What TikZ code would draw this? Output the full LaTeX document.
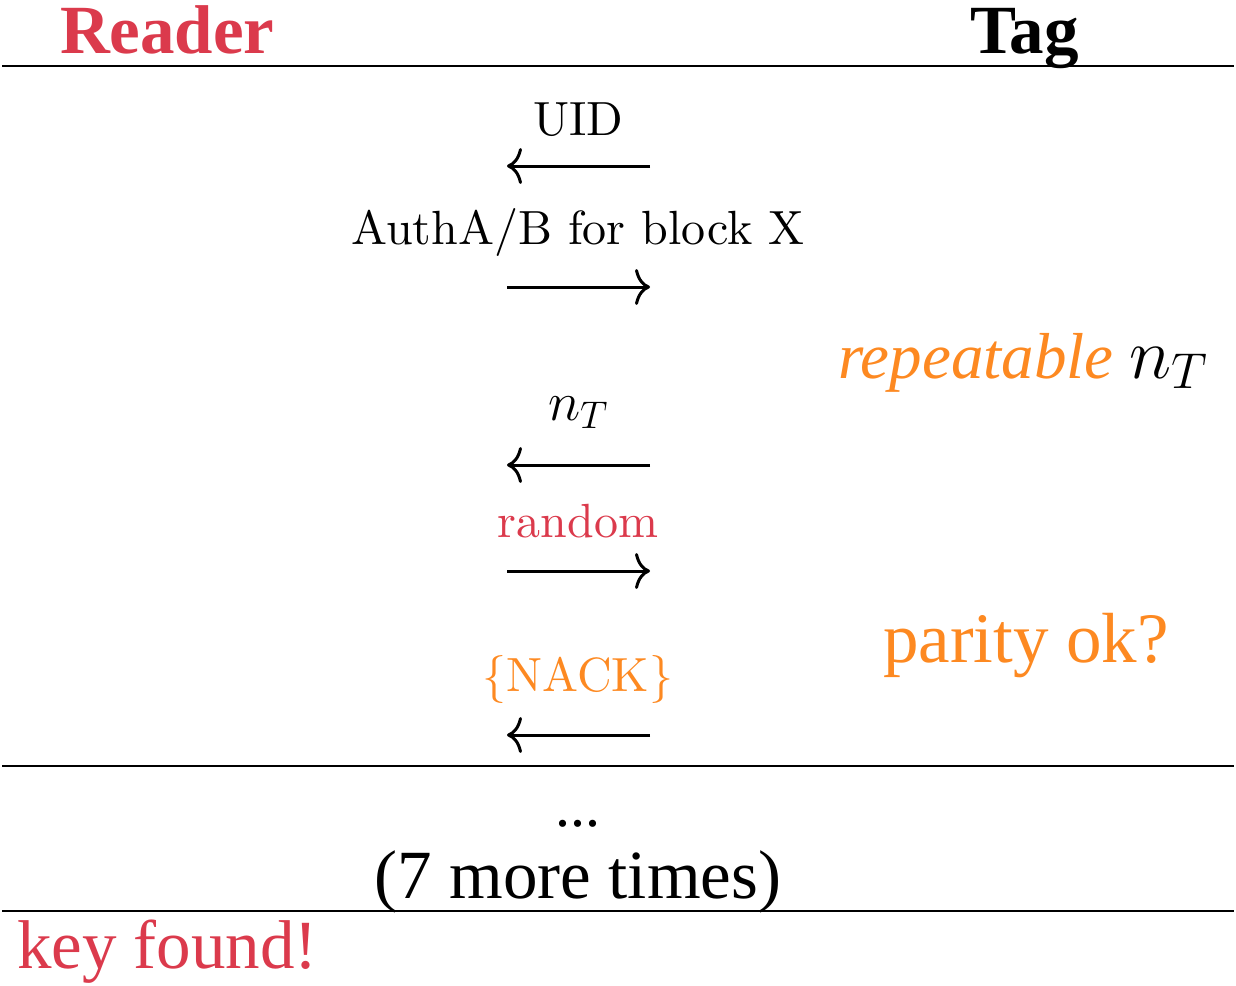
\documentclass[tikz,border=0pt]{standalone}
\usepackage{fix-cm}
\usepackage{fontspec}
\usetikzlibrary{arrows.meta}
\newfontfamily\libfont{Liberation Serif}
\newfontfamily\lmten{lmroman10-regular}[Extension=.otf]
\definecolor{readerred}{RGB}{219,58,76}
\definecolor{tagorange}{RGB}{253,137,33}
\begin{document}
\begin{tikzpicture}[x=1pt,y=-1pt,
  every node/.style={inner sep=0pt, outer sep=0pt},
  head/.style={font=\libfont\bfseries\fontsize{69}{80}\selectfont, anchor=base west},
  msg/.style={font=\lmten\fontsize{48}{56}\selectfont, anchor=base},
  note/.style={font=\libfont\fontsize{68}{80}\selectfont},
  sep/.style={line width=2.5pt},
  msgarrow/.style={line width=3pt, -{Computer Modern Rightarrow[length=15pt,width=36pt]}}]
  \useasboundingbox (0,0) rectangle (1236,985);

  % party headers
  \node[head, text=readerred] (reader) at (60,53) {Reader};
  \node[head] (tag) at (970,53) {Tag};
  \coordinate (top-l) at (2,66);  \coordinate (top-r) at (1234,66);
  \draw[sep] (top-l) -- (top-r);

  % UID  (tag -> reader)
  \node[msg] (uid) at (578,135) {UID};
  \coordinate (a1-r) at (650,166); \coordinate (a1-l) at (507,166);
  \draw[msgarrow] (a1-r) -- (a1-l);

  % authentication request (reader -> tag)
  \node[msg] (auth) at (578,244) {AuthA/B for block X};
  \coordinate (a2-l) at (507,287); \coordinate (a2-r) at (650,287);
  \draw[msgarrow] (a2-l) -- (a2-r);

  \node[note, font=\libfont\fontsize{65}{76}\selectfont, anchor=base west] (rep) at (838,378)
    {{\color{tagorange}\itshape repeatable} {\fontsize{72}{80}\selectfont$n_T$}};

  % tag nonce
  \node[msg, font=\lmten\fontsize{55}{60}\selectfont] (nt) at (578,420) {$n_T$};
  \coordinate (a3-r) at (650,465); \coordinate (a3-l) at (507,465);
  \draw[msgarrow] (a3-r) -- (a3-l);

  % reader answer
  \node[msg, text=readerred] (rnd) at (578,537) {random};
  \coordinate (a4-l) at (507,571); \coordinate (a4-r) at (650,571);
  \draw[msgarrow] (a4-l) -- (a4-r);

  \node[note, font=\libfont\fontsize{71}{80}\selectfont, text=tagorange, anchor=base west] (par) at (883,662) {parity ok?};

  % optional NACK
  \node[msg, text=tagorange] (nack) at (578,691) {\{NACK\}};
  \coordinate (a5-r) at (650,735); \coordinate (a5-l) at (507,735);
  \draw[msgarrow] (a5-r) -- (a5-l);

  \coordinate (mid-l) at (2,766);  \coordinate (mid-r) at (1234,766);
  \draw[sep] (mid-l) -- (mid-r);

  % repetition
  \node[note, font=\libfont\fontsize{60}{70}\selectfont, anchor=base] (dots) at (578,826) {...};
  \node[note, font=\libfont\fontsize{69}{80}\selectfont, anchor=base] (more) at (578,898) {(7 more times)};
  \coordinate (bot-l) at (2,911);  \coordinate (bot-r) at (1234,911);
  \draw[sep] (bot-l) -- (bot-r);

  \node[note, font=\libfont\fontsize{69}{80}\selectfont, text=readerred, anchor=base west] (key) at (17,968) {key found!};
\end{tikzpicture}
\end{document}
